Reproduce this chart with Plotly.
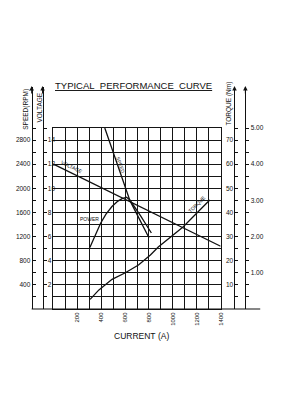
import plotly.graph_objects as go

# ---------------- data ----------------
current_ticks = [0, 100, 200, 300, 400, 500, 600, 700, 800, 900, 1000, 1100, 1200, 1300, 1400]
current_labels = ["", "", "200", "", "400", "", "600", "", "800", "", "1000", "", "1200", "", "1400"]

voltage_current = [0, 1400]
voltage_values = [12.0, 5.2]

speed_current = [430, 540, 640, 720, 800]
speed_values = [3000, 2370, 1800, 1490, 1180]

power_current = [305, 350, 395, 440, 490, 540, 575, 612, 640, 730, 820]
power_values = [1.70, 2.04, 2.37, 2.62, 2.83, 2.98, 3.05, 3.09, 3.01, 2.57, 2.10]

torque_current = [307, 381, 491, 602, 712, 812, 878, 1085, 1309]
torque_values = [4.0, 7.9, 12.3, 15.0, 18.2, 22.4, 25.7, 34.0, 45.2]

speed_ticks = [200 * k for k in range(1, 16)]
speed_labels = [str(v) if v % 400 == 0 and v <= 2800 else "" for v in speed_ticks]
volt_ticks = list(range(1, 16))
volt_labels = [str(v) if v % 2 == 0 else "" for v in volt_ticks]
torque_ticks = [5 * k for k in range(1, 16)]
torque_labels = [str(v) if v % 10 == 0 else "" for v in torque_ticks]
power_ticks = [k / 3 for k in range(1, 16)]
power_labels = ["%.2f" % (k / 3) if k % 3 == 0 else "" for k in range(1, 16)]

# ---------------- layout geometry ----------------
W, H = 283, 400
gx0, gx1 = 54, 223          # grid left/right px
gyb, gyt = 309, 128         # grid bottom/top px
ay_top = 87                 # axis arrow top px
ext = (gyb - ay_top) / (gyb - gyt)

def fx(px):
    return px / W

def fy(py):
    return (H - py) / H

FONT = "Liberation Sans"
INK = "#111111"
xdom = [fx(gx0), fx(gx1)]
ydom_grid = [fy(gyb), fy(gyt)]
ydom_ax = [fy(gyb), fy(ay_top)]

fig = go.Figure()

line_style = dict(color=INK, width=1.3)
fig.add_trace(go.Scatter(x=voltage_current, y=voltage_values, mode="lines",
                         line=line_style, xaxis="x2", yaxis="y3", hoverinfo="skip"))
fig.add_trace(go.Scatter(x=speed_current, y=speed_values, mode="lines",
                         line=line_style, xaxis="x2", yaxis="y2", hoverinfo="skip"))
fig.add_trace(go.Scatter(x=power_current, y=power_values, mode="lines",
                         line=line_style, xaxis="x2", yaxis="y5", hoverinfo="skip"))
fig.add_trace(go.Scatter(x=torque_current, y=torque_values, mode="lines",
                         line=line_style, xaxis="x2", yaxis="y4", hoverinfo="skip"))

grid_c = "#151515"
tickfont = dict(family=FONT, size=6.5, color=INK)

fig.update_layout(
    width=W, height=H, autosize=False,
    margin=dict(l=0, r=0, t=0, b=0),
    paper_bgcolor="white", plot_bgcolor="rgba(0,0,0,0)",
    showlegend=False,
    xaxis=dict(domain=xdom, range=[0, 1400], anchor="y",
               tickmode="array", tickvals=current_ticks, ticktext=current_labels,
               tickangle=-90, tickfont=dict(family=FONT, size=6, color=INK),
               ticks="", showgrid=True, gridcolor=grid_c, gridwidth=1.2,
               showline=True, linecolor=grid_c, linewidth=1.2, mirror=True,
               zeroline=False, fixedrange=True),
    yaxis=dict(domain=ydom_grid, range=[0, 15], anchor="x",
               tickmode="array", tickvals=list(range(0, 16)),
               showticklabels=False, ticks="", showgrid=True,
               gridcolor=grid_c, gridwidth=1.2,
               showline=True, linecolor=grid_c, linewidth=1.2, mirror=True,
               zeroline=False, fixedrange=True),
    xaxis2=dict(domain=xdom, range=[0, 1400], anchor="y2", visible=False,
                showgrid=False, zeroline=False),
    yaxis2=dict(domain=ydom_ax, range=[0, 3000 * ext], anchor="free", position=fx(32),
                side="left", tickmode="array", tickvals=speed_ticks, ticktext=speed_labels,
                ticks="inside", ticklen=3, tickcolor=INK, tickfont=tickfont,
                showline=True, linecolor=INK, linewidth=1, showgrid=False, zeroline=False),
    yaxis3=dict(domain=ydom_ax, range=[0, 15 * ext], anchor="free", position=fx(43),
                side="right", tickmode="array", tickvals=volt_ticks, ticktext=volt_labels,
                ticks="outside", ticklen=3, tickcolor=INK, tickfont=tickfont,
                showline=True, linecolor=INK, linewidth=1, showgrid=False, zeroline=False),
    yaxis4=dict(domain=ydom_ax, range=[0, 75 * ext], anchor="free", position=fx(237),
                side="left", tickmode="array", tickvals=torque_ticks, ticktext=torque_labels,
                ticks="inside", ticklen=3, tickcolor=INK, tickfont=tickfont,
                showline=True, linecolor=INK, linewidth=1, showgrid=False, zeroline=False),
    yaxis5=dict(domain=ydom_ax, range=[0, 5 * ext], anchor="free", position=fx(248),
                side="right", tickmode="array", tickvals=power_ticks, ticktext=power_labels,
                ticks="outside", ticklen=3, tickcolor=INK, tickfont=tickfont,
                showline=True, linecolor=INK, linewidth=1, showgrid=False, zeroline=False),
)

# bottom base line extending across all axes
fig.add_shape(type="line", xref="paper", yref="paper",
              x0=fx(32), x1=fx(263), y0=fy(gyb), y1=fy(gyb),
              line=dict(color=INK, width=1.2))

ann = []
C = dict(xanchor="center", yanchor="middle", showarrow=False)
# title
ann.append(dict(text="<u>TYPICAL\u00a0\u00a0PERFORMANCE\u00a0\u00a0CURVE</u>", xref="paper", yref="paper",
                x=fx(135), y=fy(85), font=dict(family=FONT, size=9.5, color=INK), **C))
ann.append(dict(text="CURRENT\u00a0(A)", xref="paper", yref="paper",
                x=fx(143), y=fy(336), font=dict(family=FONT, size=8.5, color=INK), **C))
ann.append(dict(text="SPEED(RPM)", xref="paper", yref="paper", x=fx(26), y=fy(109),
                textangle=-90, font=dict(family=FONT, size=6.5, color=INK), **C))
ann.append(dict(text="VOLTAGE", xref="paper", yref="paper", x=fx(39), y=fy(108),
                textangle=-90, font=dict(family=FONT, size=6.5, color=INK), **C))
ann.append(dict(text="TORQUE\u00a0(Nm)", xref="paper", yref="paper", x=fx(231), y=fy(104),
                textangle=-90, font=dict(family=FONT, size=6.5, color=INK), **C))
# axis arrows
for px in [32, 43, 237, 248]:
    ann.append(dict(text="", xref="paper", yref="paper", x=fx(px), y=fy(ay_top - 1),
                    showarrow=True, ax=0, ay=9, arrowhead=2, arrowsize=0.9,
                    arrowwidth=1, arrowcolor=INK))
# curve labels
lab_font = dict(family=FONT, size=5, color=INK)
ann.append(dict(text="VOLTAGE", xref="x", yref="y", x=157, y=11.76, textangle=26,
                font=lab_font, **C))
ann.append(dict(text="SPEED", xref="x", yref="y", x=563, y=11.93, textangle=71,
                font=lab_font, **C))
ann.append(dict(text="POWER", xref="x", yref="y", x=298, y=7.46, textangle=0,
                font=lab_font, **C))
ann.append(dict(text="TORQUE", xref="x", yref="y", x=1201, y=8.70, textangle=-45,
                font=lab_font, **C))
fig.update_layout(annotations=ann)

fig.write_html("out.html")
